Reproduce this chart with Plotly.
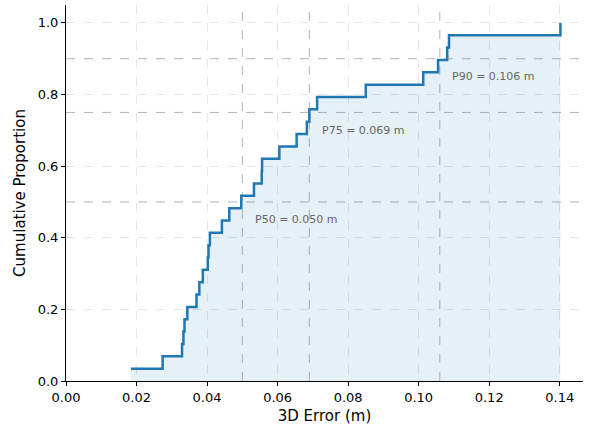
import numpy as np
import plotly.graph_objects as go

errors = [0.0184, 0.0274, 0.0329, 0.0333, 0.0336, 0.0344, 0.0370, 0.0378, 0.0388,
          0.0402, 0.0404, 0.0408, 0.0442, 0.0463, 0.0497, 0.0533, 0.0555, 0.0556,
          0.0605, 0.0654, 0.0683, 0.0690, 0.0712, 0.0850, 0.1013, 0.1055, 0.1081,
          0.1086, 0.1402]
pct_levels = [0.50, 0.75, 0.90]
pct_names = ["P50", "P75", "P90"]
pct_values = [0.050, 0.069, 0.106]
x_ticks = [0.00, 0.02, 0.04, 0.06, 0.08, 0.10, 0.12, 0.14]
y_ticks = [0.0, 0.2, 0.4, 0.6, 0.8, 1.0]

xs = np.sort(np.array(errors))
n = len(xs)
ys = np.arange(1, n + 1) / n

blue = "#1f77b4"
fig = go.Figure()
fig.add_trace(go.Scatter(x=xs, y=ys, mode="lines", line=dict(color=blue, width=2.5, shape="hv"),
                         fill="tozeroy", fillcolor="rgba(31,119,180,0.11)", showlegend=False,
                         hoverinfo="skip"))

for lvl, name, val in zip(pct_levels, pct_names, pct_values):
    fig.add_shape(type="line", xref="x", yref="paper", x0=val, x1=val, y0=0, y1=1,
                  line=dict(color="rgba(128,128,128,0.6)", width=1, dash="dash"), layer="above")
    fig.add_shape(type="line", xref="paper", yref="y", x0=0, x1=1, y0=lvl, y1=lvl,
                  line=dict(color="rgba(128,128,128,0.6)", width=1, dash="dash"), layer="above")
    fig.add_annotation(x=val + 0.003, y=lvl - 0.05, text=f"{name} = {val:.3f} m", showarrow=False,
                       xanchor="left", yanchor="middle",
                       font=dict(family="DejaVu Sans", size=11, color="#666666"))

axis_common = dict(showline=True, linecolor="black", linewidth=1, ticks="outside", ticklen=4,
                   tickcolor="black", showgrid=True, gridcolor="#e6e6e6", griddash="dash",
                   gridwidth=1, zeroline=False, mirror=False,
                   tickfont=dict(family="DejaVu Sans", size=13, color="black"))
fig.update_xaxes(range=[0, 0.1466], tickvals=x_ticks, tickformat=".2f",
                 title=dict(text="3D Error (m)", font=dict(family="DejaVu Sans", size=15, color="black"), standoff=6),
                 **axis_common)
fig.update_yaxes(range=[0, 1.05], tickvals=y_ticks, tickformat=".1f",
                 title=dict(text="Cumulative Proportion", font=dict(family="DejaVu Sans", size=15, color="black"), standoff=8),
                 **axis_common)
fig.update_layout(width=595, height=425, margin=dict(l=66, r=12, t=5, b=44),
                  plot_bgcolor="white", paper_bgcolor="white")
fig.write_html("out.html")
